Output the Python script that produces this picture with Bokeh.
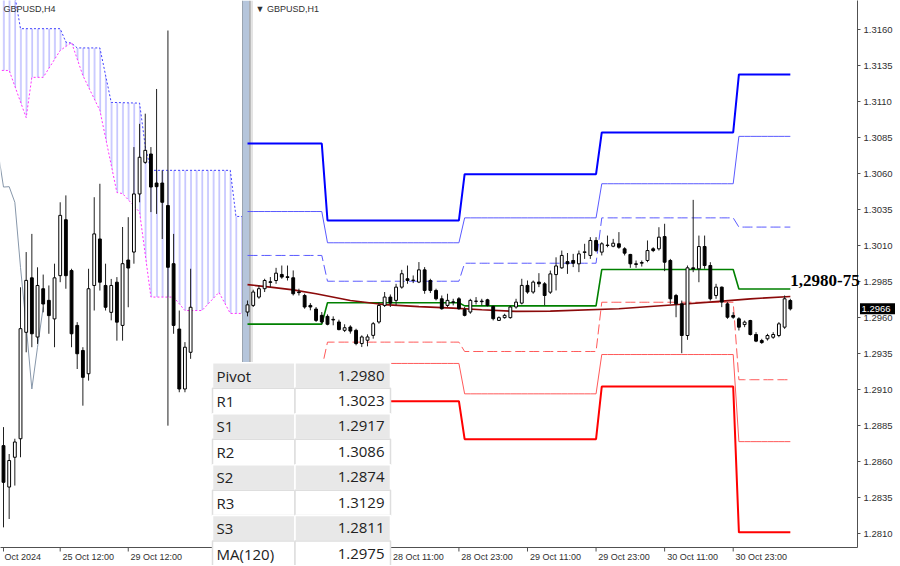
import numpy as np
from bokeh.plotting import figure
from bokeh.models import Range1d, FixedTicker, PrintfTickFormatter, ColumnDataSource
from bokeh.core.properties import value
from bokeh.embed import file_html
from bokeh.resources import INLINE

# ======================= DATA =======================
# GBPUSD,H1 candles, 25 Oct 10:00 ... 31 Oct 09:00 (one per hour)
h1_open = [1.29640, 1.29686, 1.29744, 1.29802, 1.29850, 1.29859, 1.29901, 1.29885, 1.29878, 1.29779,
           1.29755, 1.29686, 1.29661, 1.29617, 1.29610, 1.29589, 1.29571, 1.29513, 1.29536, 1.29513,
           1.29421, 1.29444, 1.29478, 1.29571, 1.29686, 1.29744, 1.29721, 1.29813, 1.29871, 1.29859,
           1.29848, 1.29933, 1.29859, 1.29790, 1.29732, 1.29686, 1.29711, 1.29732, 1.29656, 1.29640,
           1.29714, 1.29716, 1.29725, 1.29679, 1.29582, 1.29601, 1.29601, 1.29675, 1.29702, 1.29825,
           1.29779, 1.29848, 1.29836, 1.29778, 1.29900, 1.29947, 1.29990, 1.29998, 1.29975, 1.30054,
           1.30033, 1.30137, 1.30056, 1.30102, 1.30097, 1.30114, 1.30079, 1.30040, 1.29975, 1.29979,
           1.29998, 1.30079, 1.30079, 1.30164, 1.29998, 1.29755, 1.29697, 1.29477, 1.29947, 1.29940,
           1.30095, 1.29963, 1.29755, 1.29813, 1.29697, 1.29616, 1.29593, 1.29553, 1.29581, 1.29484,
           1.29442, 1.29454, 1.29465, 1.29477, 1.29535, 1.29720]
h1_high = [1.29720, 1.29795, 1.29825, 1.29871, 1.29883, 1.29947, 1.29963, 1.29963, 1.29929, 1.29802,
           1.29767, 1.29702, 1.29675, 1.29640, 1.29624, 1.29610, 1.29587, 1.29555, 1.29548, 1.29524,
           1.29478, 1.29485, 1.29571, 1.29709, 1.29779, 1.29762, 1.29836, 1.29933, 1.29963, 1.29894,
           1.29987, 1.29952, 1.29871, 1.29802, 1.29755, 1.29767, 1.29732, 1.29744, 1.29675, 1.29732,
           1.29744, 1.29732, 1.29732, 1.29686, 1.29610, 1.29628, 1.29686, 1.29732, 1.29871, 1.29859,
           1.29859, 1.29910, 1.29848, 1.29928, 1.30020, 1.30067, 1.30050, 1.30044, 1.30067, 1.30114,
           1.30160, 1.30160, 1.30125, 1.30171, 1.30148, 1.30195, 1.30090, 1.30044, 1.29998, 1.29998,
           1.30137, 1.30090, 1.30229, 1.30253, 1.30009, 1.29766, 1.29720, 1.29963, 1.30419, 1.30171,
           1.30171, 1.29986, 1.29836, 1.29817, 1.29709, 1.29639, 1.29604, 1.29581, 1.29586, 1.29500,
           1.29454, 1.29489, 1.29500, 1.29570, 1.29755, 1.29732]
h1_low = [1.29610, 1.29675, 1.29732, 1.29779, 1.29813, 1.29836, 1.29871, 1.29859, 1.29755, 1.29755,
          1.29663, 1.29652, 1.29571, 1.29559, 1.29548, 1.29548, 1.29513, 1.29501, 1.29490, 1.29409,
          1.29397, 1.29402, 1.29455, 1.29559, 1.29675, 1.29675, 1.29686, 1.29802, 1.29836, 1.29841,
          1.29841, 1.29767, 1.29772, 1.29721, 1.29656, 1.29675, 1.29686, 1.29656, 1.29610, 1.29628,
          1.29693, 1.29686, 1.29679, 1.29582, 1.29578, 1.29594, 1.29594, 1.29663, 1.29693, 1.29767,
          1.29767, 1.29813, 1.29686, 1.29766, 1.29790, 1.29940, 1.29905, 1.29952, 1.29917, 1.30009,
          1.30009, 1.30056, 1.30033, 1.30090, 1.30090, 1.30079, 1.30033, 1.29947, 1.29947, 1.29956,
          1.29986, 1.30056, 1.30067, 1.29924, 1.29697, 1.29604, 1.29354, 1.29447, 1.29917, 1.29847,
          1.29940, 1.29720, 1.29732, 1.29674, 1.29593, 1.29593, 1.29512, 1.29535, 1.29477, 1.29431,
          1.29419, 1.29442, 1.29454, 1.29465, 1.29523, 1.29651]
h1_close = [1.29690, 1.29779, 1.29802, 1.29859, 1.29846, 1.29910, 1.29883, 1.29880, 1.29767, 1.29775,
            1.29675, 1.29675, 1.29582, 1.29571, 1.29555, 1.29585, 1.29518, 1.29531, 1.29508, 1.29421,
            1.29467, 1.29467, 1.29559, 1.29686, 1.29744, 1.29702, 1.29813, 1.29906, 1.29859, 1.29862,
            1.29933, 1.29790, 1.29790, 1.29732, 1.29663, 1.29721, 1.29707, 1.29663, 1.29617, 1.29721,
            1.29716, 1.29712, 1.29686, 1.29594, 1.29601, 1.29617, 1.29675, 1.29709, 1.29825, 1.29779,
            1.29848, 1.29836, 1.29755, 1.29905, 1.29960, 1.30033, 1.29975, 1.29979, 1.30044, 1.30058,
            1.30137, 1.30067, 1.30114, 1.30105, 1.30118, 1.30090, 1.30049, 1.29975, 1.29971, 1.29984,
            1.30067, 1.30067, 1.30160, 1.29986, 1.29732, 1.29697, 1.29477, 1.29947, 1.29940, 1.30095,
            1.29963, 1.29732, 1.29813, 1.29709, 1.29604, 1.29604, 1.29535, 1.29570, 1.29484, 1.29438,
            1.29428, 1.29477, 1.29484, 1.29558, 1.29732, 1.29662]

# daily pivot levels (25 Oct, 28 Oct, 29 Oct, 30 Oct, 31 Oct) and H1 bars in each day
h1_bars_per_day = [14, 24, 24, 24, 10]
pivot_R3 = [1.30810, 1.30276, 1.30597, 1.30887, 1.3129]
pivot_R2 = [1.30338, 1.30121, 1.30294, 1.30531, 1.3086]
pivot_R1 = [1.30033, 1.29854, 1.29979, 1.30294, 1.3023]
pivot_P = [1.29556, 1.29704, 1.29683, 1.29935, 1.2980]
pivot_S1 = [1.29250, 1.29431, 1.29366, 1.29708, 1.2917]
pivot_S2 = [1.28770, 1.29283, 1.29072, 1.29345, 1.2874]
pivot_S3 = [1.28470, 1.29021, 1.28757, 1.29123, 1.2811]

# MA(120) read at these H1 bars
ma120_bar = [0, 4, 8, 12, 18, 22, 24, 30, 36, 41, 47, 53, 65, 76, 82, 88, 95]
ma120_val = [1.29831, 1.29813, 1.29794, 1.29767, 1.29720, 1.29701, 1.29692, 1.29678, 1.29667,
             1.29656, 1.29644, 1.29646, 1.29663, 1.29694, 1.29713, 1.29732, 1.29748]

# GBPUSD,H4 candles, 23 Oct 20:00 ... 31 Oct 08:00
h4_open = [1.29287, 1.29173, 1.29255, 1.29306, 1.29599, 1.29749, 1.29586, 1.29719, 1.29687, 1.29636,
           1.29755, 1.29909, 1.29769, 1.29618, 1.29549, 1.29485, 1.29728, 1.29856, 1.29728, 1.29654,
           1.29737, 1.29618, 1.29798, 1.29820, 1.29980, 1.30067, 1.30090, 1.30010, 1.30010, 1.29948,
           1.29788, 1.29608, 1.29443, 1.29544]
h4_high = [1.29338, 1.29264, 1.29306, 1.29723, 1.29820, 1.29870, 1.29778, 1.29758, 1.29728, 1.29788,
           1.29957, 1.29976, 1.29774, 1.29627, 1.29558, 1.29774, 1.29971, 1.30008, 1.29788, 1.29746,
           1.29751, 1.29889, 1.29916, 1.30109, 1.30173, 1.30201, 1.30109, 1.30269, 1.30045, 1.30430,
           1.29870, 1.29659, 1.29572, 1.29774]
h4_low = [1.29062, 1.29085, 1.29177, 1.29255, 1.29544, 1.29558, 1.29567, 1.29654, 1.29595, 1.29558,
          1.29737, 1.29719, 1.29558, 1.29498, 1.29397, 1.29466, 1.29659, 1.29714, 1.29659, 1.29632,
          1.29576, 1.29576, 1.29668, 1.29788, 1.29957, 1.30063, 1.29930, 1.29925, 1.29856, 1.29342,
          1.29595, 1.29434, 1.29434, 1.29526]
h4_close = [1.29186, 1.29246, 1.29297, 1.29609, 1.29742, 1.29595, 1.29728, 1.29677, 1.29645, 1.29749,
            1.29921, 1.29755, 1.29595, 1.29540, 1.29475, 1.29719, 1.29870, 1.29737, 1.29668, 1.29728,
            1.29627, 1.29788, 1.29776, 1.29980, 1.30081, 1.30100, 1.29999, 1.30000, 1.29957, 1.29778,
            1.29618, 1.29443, 1.29558, 1.29668]

# Ichimoku cloud edges on the H4 chart (bar index, price)
senkou_up_bar = [-1, 2, 3, 10, 11, 12, 13, 17, 19, 24, 25, 26, 40, 41, 44]
senkou_up_val = [1.30526, 1.30526, 1.30435, 1.30435, 1.30398, 1.30395, 1.30382, 1.30382, 1.30232,
                 1.30230, 1.30111, 1.30045, 1.30045, 1.29918, 1.29918]
senkou_lo_bar = [-1, 1, 4, 5, 7, 10, 12, 14, 17, 20, 21, 24, 26, 30, 32, 35, 38, 40, 44]
senkou_lo_val = [1.30320, 1.30320, 1.30190, 1.30301, 1.30301, 1.30375, 1.30397, 1.30306, 1.30210,
                 1.29984, 1.29981, 1.29930, 1.29696, 1.29696, 1.29659, 1.29659, 1.29709, 1.29651, 1.29651]
chikou_shift = 26

table_names = ["Pivot", "R1", "S1", "R2", "S2", "R3", "S3", "MA(120)"]
table_values = [1.2980, 1.3023, 1.2917, 1.3086, 1.2874, 1.3129, 1.2811, 1.2975]

h1_tick_bar = [25, 37, 49, 61, 73, 85]
h1_tick_text = ["28 Oct 11:00", "28 Oct 23:00", "29 Oct 11:00", "29 Oct 23:00", "30 Oct 11:00", "30 Oct 23:00"]
h4_tick_bar = [0, 10, 22]
h4_tick_text = ["Oct 2024", "25 Oct 12:00", "29 Oct 12:00"]
price_ticks = [1.2810, 1.2835, 1.2860, 1.2885, 1.2910, 1.2935, 1.2960, 1.2985,
               1.3010, 1.3035, 1.3060, 1.3085, 1.3110, 1.3135, 1.3160]

# ======================= LAYOUT (canvas pixels) =======================
FL, FR, FT, FB = 0.0, 857.0, 0.0, 547.0
H1_X0, H1_DX = 247.0, 5.714
H1_YREF, H1_PREF, H1_PPX = 29.3, 1.3160, 14400.0
H4_X0, H4_DX = 3.0, 5.67
H4_YREF, H4_PREF, H4_PPX = 30.0, 1.3043, 36320.0
SPLIT_L, SPLIT_R = 242.0, 250.0

def h1x(px): return (px - H1_X0) / H1_DX
def h1p(py): return H1_PREF - (py - H1_YREF) / H1_PPX
def h4x(px): return (px - H4_X0) / H4_DX
def h4p(py): return H4_PREF - (py - H4_YREF) / H4_PPX

AX_FONT = "Liberation Sans"
TXT = "#303030"

p = figure(frame_width=int(FR - FL), frame_height=int(FB - FT),
           x_range=Range1d(h1x(FL), h1x(FR)), y_range=Range1d(h1p(FB), h1p(FT)),
           output_backend="svg", toolbar_location=None, y_axis_location="right",
           min_border=0, min_border_bottom=18, outline_line_color=None,
           background_fill_color="white", border_fill_color="white")
p.extra_x_ranges = {"h4x": Range1d(h4x(FL), h4x(FR)), "px": Range1d(FL, FR)}
p.extra_y_ranges = {"h4y": Range1d(h4p(FB), h4p(FT)), "py": Range1d(FB, FT)}
p.xgrid.visible = False
p.ygrid.visible = False

# ---------------- left panel: H4 with Ichimoku ----------------
H4 = dict(x_range_name="h4x", y_range_name="h4y")
cx = senkou_up_bar + senkou_lo_bar[::-1]
cy = senkou_up_val + senkou_lo_val[::-1]
p.patch(cx, cy, fill_color=None, line_color=None, hatch_pattern="|",
        hatch_color="#3a3aff", hatch_scale=5.67, hatch_weight=1, hatch_alpha=0.5, **H4)
p.line(senkou_up_bar, senkou_up_val, line_color="#4040ff", line_dash="2 2", line_width=1, **H4)
p.line(senkou_lo_bar, senkou_lo_val, line_color="#ff33ff", line_dash="2 2", line_width=1, **H4)

n4 = len(h4_close)
ck_bar = [i - chikou_shift for i in range(chikou_shift - 1, n4)]
ck_val = [h4_close[i] for i in range(chikou_shift - 1, n4)]
p.line(ck_bar, ck_val, line_color="#8797aa", line_width=1, **H4)

def candles(o, h, l, c, ranges):
    n = len(c)
    src = ColumnDataSource(dict(
        x=list(range(n)), h=h, l=l,
        top=[max(a, b) for a, b in zip(o, c)], bot=[min(a, b) for a, b in zip(o, c)],
        fill=["white" if cc >= oo else "black" for oo, cc in zip(o, c)]))
    p.segment(x0="x", y0="h", x1="x", y1="l", source=src, line_color="#202020", line_width=1, **ranges)
    p.vbar(x="x", width=0.5, top="top", bottom="bot", source=src, fill_color="fill",
           line_color="black", line_width=1, **ranges)

candles(h4_open, h4_high, h4_low, h4_close, H4)

# ---------------- panel frames ----------------
PX = dict(x_range_name="px", y_range_name="py")
p.quad(left=SPLIT_L, right=FR, top=FT, bottom=FB, fill_color="white", line_color=None, **PX)
p.quad(left=SPLIT_L, right=SPLIT_R - 1, top=FT, bottom=FB, fill_color="#b5c5db", line_color=None, **PX)
p.segment(x0=[SPLIT_L, SPLIT_R - 0.5, SPLIT_R + 1.5], y0=[FT] * 3, x1=[SPLIT_L, SPLIT_R - 0.5, SPLIT_R + 1.5],
          y1=[FB] * 3, line_color=["#9aa4b0", "#7d7d7d", "#c8c8c8"], line_width=1, **PX)

# ---------------- right panel: H1 ----------------
n1 = len(h1_close)
bars = list(range(n1))
day_of_bar = np.repeat(np.arange(len(h1_bars_per_day)), h1_bars_per_day)
levels = [(pivot_R3, "#0000ff", 2, "solid"), (pivot_R2, "#5a5aff", 1, "solid"),
          (pivot_R1, "#5a5aff", 1, "10 4"), (pivot_P, "#008000", 1.6, "solid"),
          (pivot_S1, "#ff5a5a", 1, "10 4"), (pivot_S2, "#ff5a5a", 1, "solid"),
          (pivot_S3, "#ff0000", 2, "solid")]
for vals, col, w, dash in levels:
    p.line(bars, list(np.array(vals)[day_of_bar]), line_color=col, line_width=w, line_dash=dash)
p.line(ma120_bar, ma120_val, line_color="#8b0a0a", line_width=1.7)
candles(h1_open, h1_high, h1_low, h1_close, {})

p.text(x=[3], y=[3], text=["GBPUSD,H4"], text_font=value(AX_FONT), text_font_size="9px",
       text_color=TXT, text_baseline="top", **PX)
p.text(x=[255], y=[3], text=["\u25bc GBPUSD,H1"], text_font=value(AX_FONT), text_font_size="9px",
       text_color=TXT, text_baseline="top", **PX)

# ---------------- axes ----------------
def lbl_off(s):  # MT4 labels start right after the tick
    return (2 + 4.33 * len(s) / 2) / H1_DX

tick_true, tick_pos, tick_map = [], [], {}
for b, s in zip(h4_tick_bar, h4_tick_text):
    t = h1x(H4_X0 + H4_DX * b)
    pos = round(t + lbl_off(s), 4)
    tick_true.append(t); tick_pos.append(pos); tick_map[pos] = s
for b, s in zip(h1_tick_bar, h1_tick_text):
    pos = round(b + lbl_off(s), 4)
    tick_true.append(b); tick_pos.append(pos); tick_map[pos] = s

xa = p.xaxis[0]
xa.ticker = FixedTicker(ticks=tick_pos, minor_ticks=[])
xa.major_label_overrides = tick_map
xa.major_tick_out = 0
xa.major_tick_in = 0
xa.minor_tick_line_color = None
xa.axis_line_color = "#505050"
xa.major_label_standoff = 4
xa.major_label_text_font = AX_FONT
xa.major_label_text_font_size = "9px"
xa.major_label_text_color = TXT

ya = p.yaxis[0]
ya.ticker = FixedTicker(ticks=price_ticks, minor_ticks=[])
ya.formatter = PrintfTickFormatter(format="%.4f")
ya.major_tick_out = 3
ya.major_tick_in = 0
ya.minor_tick_line_color = None
ya.axis_line_color = "#505050"
ya.major_tick_line_color = "#505050"
ya.major_label_standoff = 3
ya.major_label_text_font = AX_FONT
ya.major_label_text_font_size = "9.5px"
ya.major_label_text_color = TXT

# small tick marks under the time axis
p.segment(x0=tick_true, y0=[FB] * len(tick_true), x1=tick_true, y1=[FB + 4] * len(tick_true),
          line_color="#505050", line_width=1, y_range_name="py", level="overlay")

# ---------------- overlays ----------------
last_close = h1_close[-1]
p.rect(x=[878.5], y=[last_close], width=38, height=11, height_units="screen",
       fill_color="black", line_color=None, x_range_name="px", level="overlay")
p.text(x=[861], y=[last_close], text=[f"{last_close:.4f}"], text_font=value(AX_FONT),
       text_font_size="9.5px", text_color="white", text_baseline="middle",
       x_range_name="px", level="overlay")

key_text = f"{pivot_P[-1]:.4f}".replace(".", ",") + "-" + f"{ma120_val[-1]:.4f}"[-2:]
p.text(x=[bars[-1]], y=[pivot_P[-1]], text=[key_text], text_font=value("Liberation Serif"),
       text_font_style="bold", text_font_size="17px", text_color="black",
       text_baseline="bottom", y_offset=-3, level="overlay")

# table of levels
T_L, T_M, T_R, T_TOP, ROW_H = 212.0, 294.5, 390.0, 362.3, 25.47
nr = len(table_names)
rt = [T_TOP + ROW_H * i for i in range(nr)]
rb = [T_TOP + ROW_H * (i + 1) for i in range(nr)]
rc = [T_TOP + ROW_H * (i + 0.5) for i in range(nr)]
fills = ["#e8e8e8" if i % 2 == 0 else "#ffffff" for i in range(nr)]
edges = ["#ffffff" if i % 2 == 0 else "#dedede" for i in range(nr)]
tsrc = ColumnDataSource(dict(t=rt, b=rb, c=rc, fill=fills, edge=edges, name=table_names,
                             val=[f"{v:.4f}" for v in table_values]))
p.quad(left=T_L, right=T_M, top="t", bottom="b", fill_color="fill", line_color="edge",
       line_width=1.5, source=tsrc, level="overlay", **PX)
p.quad(left=T_M, right=T_R, top="t", bottom="b", fill_color="fill", line_color="edge",
       line_width=1.5, source=tsrc, level="overlay", **PX)
p.text(x=T_L + 4, y="c", text="name", source=tsrc, text_font=value("Open Sans"),
       text_font_size="15px", text_color="#222222", text_baseline="middle", level="overlay", **PX)
p.text(x=T_R - 6, y="c", text="val", source=tsrc, text_font=value("Open Sans"),
       text_font_size="15px", text_color="#222222", text_baseline="middle", text_align="right",
       level="overlay", **PX)

open("out.html", "w").write(file_html(p, INLINE))
